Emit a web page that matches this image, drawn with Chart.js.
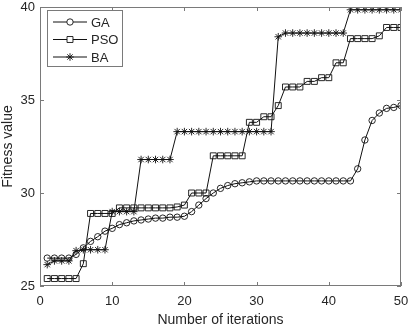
<!DOCTYPE html>
<html>
<head>
<meta charset="utf-8">
<script src="https://cdn.jsdelivr.net/npm/chart.js@4"></script>
<style>
  html,body{margin:0;padding:0;background:#fff;}
  #wrap{width:409px;height:329px;position:relative;}
</style>
</head>
<body>
<div id="wrap"><canvas id="c" width="409" height="329"></canvas></div>
<script>
/* ---------- Data ---------- */
const iterations = [1,2,3,4,5,6,7,8,9,10,11,12,13,14,15,16,17,18,19,20,21,22,23,24,25,
                    26,27,28,29,30,31,32,33,34,35,36,37,38,39,40,41,42,43,44,45,46,47,48,49,50];

const gaValues  = [26.5,26.5,26.5,26.5,26.7,27.05,27.4,27.65,27.95,28.1,
                   28.3,28.4,28.5,28.55,28.6,28.65,28.65,28.7,28.7,28.75,
                   29.0,29.35,29.7,30.0,30.25,30.4,30.5,30.55,30.6,30.65,
                   30.65,30.65,30.65,30.65,30.65,30.65,30.65,30.65,30.65,30.65,
                   30.65,30.65,30.65,31.3,32.85,33.9,34.3,34.55,34.6,34.7];

const psoValues = [25.4,25.4,25.4,25.4,25.4,26.2,28.9,28.9,28.9,28.9,
                   29.2,29.2,29.2,29.2,29.2,29.2,29.2,29.2,29.25,29.35,
                   30.0,30.0,30.0,32.0,32.0,32.0,32.0,32.0,33.8,33.8,
                   34.1,34.1,34.7,35.7,35.7,35.7,36.0,36.0,36.2,36.2,
                   37.0,37.0,38.3,38.3,38.3,38.3,38.45,38.9,38.9,38.9];

const baValues  = [26.15,26.35,26.35,26.35,26.9,26.95,26.95,26.95,26.95,29.0,
                   29.0,29.0,29.0,31.8,31.8,31.8,31.8,31.8,33.3,33.3,
                   33.3,33.3,33.3,33.3,33.3,33.3,33.3,33.3,33.3,33.3,
                   33.3,33.3,38.4,38.6,38.6,38.6,38.6,38.6,38.6,38.6,
                   38.6,38.6,39.85,39.85,39.85,39.85,39.85,39.85,39.85,39.85];

const xTicks = [0,10,20,30,40,50];
const yTicks = [25,30,35,40];

/* ---------- Helpers ---------- */
const FONT = "'Liberation Sans', Arial, Helvetica, sans-serif";
const TXT  = '#262626';
const AXIS = '#7a7a7a';
const pts  = (vals)=> vals.map((v,i)=>({x:iterations[i], y:v}));

/* inward ticks + box, MATLAB style */
const boxTicks = {
  id:'boxTicks',
  afterDraw(chart){
    const {ctx, chartArea:a, scales:{x, y}} = chart;
    ctx.save();
    ctx.strokeStyle = AXIS; ctx.lineWidth = 1;
    ctx.strokeRect(a.left+0.5, a.top+0.5, a.right-a.left-1, a.bottom-a.top-1);
    ctx.beginPath();
    for (const t of xTicks){
      const px = Math.round(x.getPixelForValue(t))+0.5;
      ctx.moveTo(px, a.bottom); ctx.lineTo(px, a.bottom-4);
      ctx.moveTo(px, a.top);    ctx.lineTo(px, a.top+4);
    }
    for (const t of yTicks){
      const py = Math.round(y.getPixelForValue(t))+0.5;
      ctx.moveTo(a.left, py);  ctx.lineTo(a.left+4, py);
      ctx.moveTo(a.right, py); ctx.lineTo(a.right-4, py);
    }
    ctx.stroke();
    ctx.restore();
  }
};

/* legend inside the axes, top-left */
const innerLegend = {
  id:'innerLegend',
  afterDraw(chart){
    const {ctx} = chart;
    const bx = 47, by = 10, bw = 75, bh = 56;
    ctx.save();
    ctx.fillStyle = '#fff';
    ctx.fillRect(bx, by, bw, bh);
    ctx.strokeStyle = AXIS; ctx.lineWidth = 1;
    ctx.strokeRect(bx+0.5, by+0.5, bw, bh);
    chart.data.datasets.forEach((ds, i)=>{
      const cy = by + 12 + i*17.5;
      ctx.strokeStyle = ds.borderColor; ctx.lineWidth = 1;
      ctx.beginPath(); ctx.moveTo(bx+6, cy); ctx.lineTo(bx+40, cy); ctx.stroke();
      ctx.fillStyle = '#fff'; ctx.lineWidth = ds.pointBorderWidth;
      Chart.helpers.drawPoint(ctx, {pointStyle:ds.pointStyle, radius:ds.pointRadius, borderWidth:ds.pointBorderWidth}, bx+23, cy);
      ctx.fillStyle = TXT; ctx.font = `13px ${FONT}`;
      ctx.textBaseline = 'middle'; ctx.textAlign = 'left';
      ctx.fillText(ds.label, bx+44, cy+1);
    });
    ctx.restore();
  }
};

const series = (label, vals, style, r)=>({
  label, data: pts(vals),
  borderColor:'#111', backgroundColor:'rgba(0,0,0,0)',
  borderWidth:1, pointStyle:style, pointRadius:r,
  pointBorderColor:'#111', pointBackgroundColor:'rgba(0,0,0,0)', pointBorderWidth:0.9,
  tension:0
});

new Chart(document.getElementById('c'), {
  type:'line',
  data:{ datasets:[
    series('GA',  gaValues,  'circle', 3.2),
    series('PSO', psoValues, 'rect',   4.2),
    series('BA',  baValues,  'star',   3.8)
  ]},
  options:{
    responsive:false,
    animation:false,
    devicePixelRatio:1,
    layout:{ padding:{ left:0, right:8, top:7, bottom:0 } },
    plugins:{ legend:{display:false}, tooltip:{enabled:false} },
    scales:{
      x:{
        type:'linear', min:0, max:50,
        grid:{ display:false, drawTicks:false }, border:{ display:false },
        afterBuildTicks:(s)=>{ s.ticks = xTicks.map(v=>({value:v})); },
        afterFit:(s)=>{ s.height = 43; s.paddingLeft = 0; s.paddingRight = 0; },
        ticks:{ color:TXT, font:{family:FONT, size:13}, padding:8, maxRotation:0 },
        title:{ display:true, text:'Number of iterations', color:TXT,
                font:{family:FONT, size:14}, padding:{top:0, bottom:0} }
      },
      y:{
        type:'linear', min:25, max:40,
        grid:{ display:false, drawTicks:false }, border:{ display:false },
        afterBuildTicks:(s)=>{ s.ticks = yTicks.map(v=>({value:v})); },
        afterFit:(s)=>{ s.width = 40; s.paddingTop = 0; s.paddingBottom = 0; },
        ticks:{ color:TXT, font:{family:FONT, size:13}, padding:5 },
        title:{ display:true, text:'Fitness value', color:TXT,
                font:{family:FONT, size:14}, padding:{top:0, bottom:0} }
      }
    }
  },
  plugins:[boxTicks, innerLegend]
});
</script>
</body>
</html>
